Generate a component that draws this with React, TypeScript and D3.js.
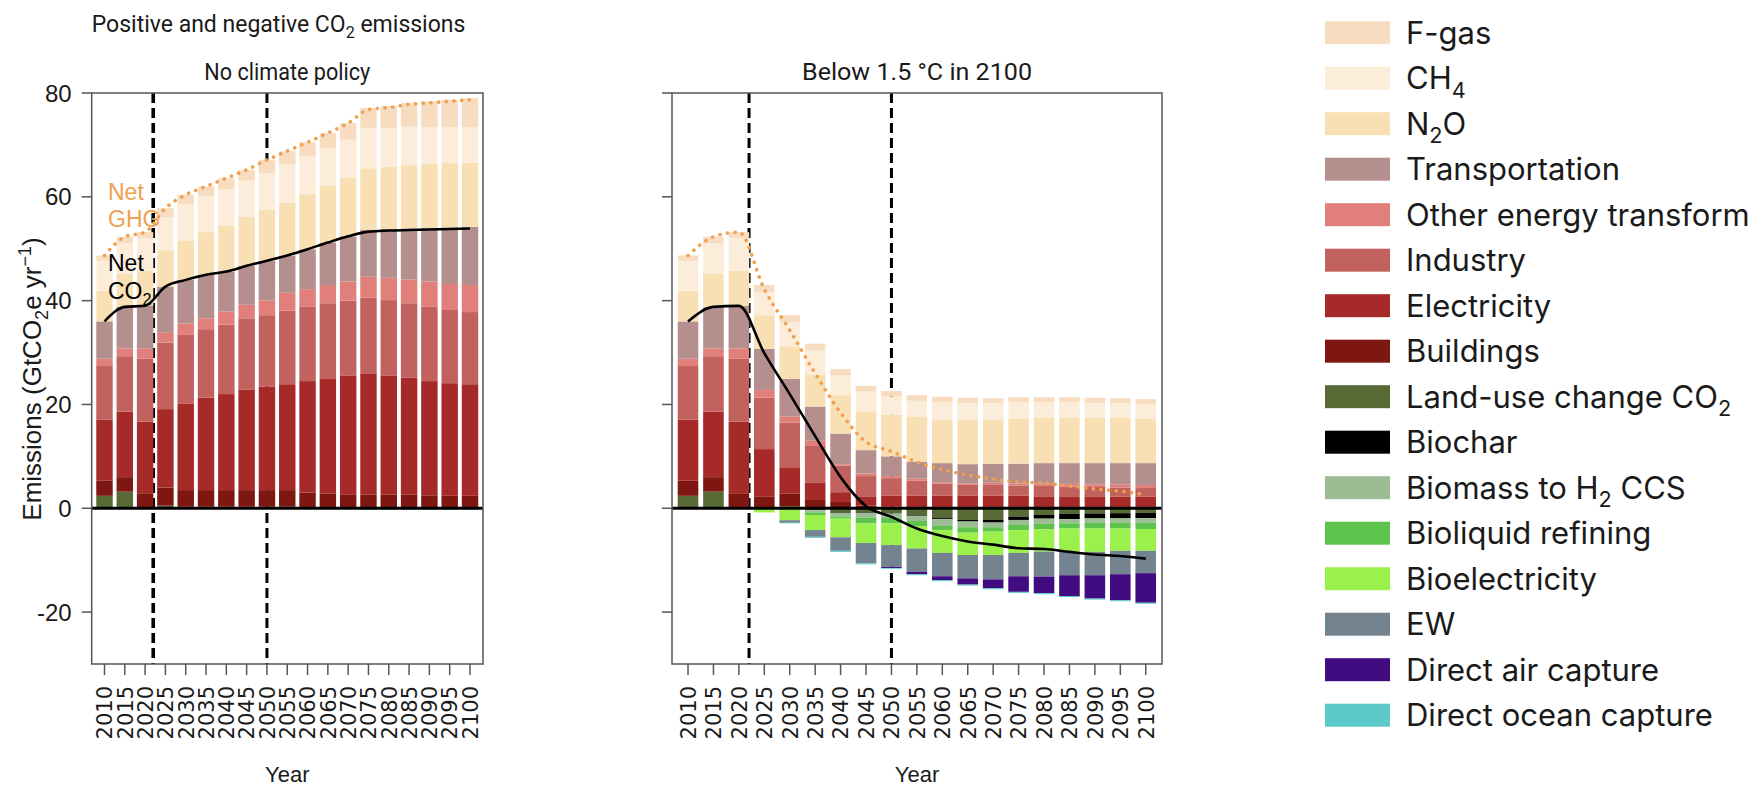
import React from "react";
import * as d3 from "d3";

// ---------------------------------------------------------------------------
// Data (GtCO2e per year), one value per year in `years`
// ---------------------------------------------------------------------------
const years = [2010, 2015, 2020, 2025, 2030, 2035, 2040, 2045, 2050, 2055, 2060, 2065, 2070, 2075, 2080, 2085, 2090, 2095, 2100];

// Scenario: no climate policy
const npLandUse = [2.4, 3.2, 0.1, 0.5, 0.3, 0.3, 0.3, 0.3, 0.3, 0.3, 0.2, 0.1, 0, 0, 0, 0, 0, 0, 0];
const npBuildings = [2.9, 2.8, 2.8, 3.5, 3.2, 3.2, 3.2, 3.2, 3.2, 3.2, 2.8, 2.7, 2.7, 2.6, 2.6, 2.6, 2.5, 2.4, 2.4];
const npElectricity = [11.8, 12.6, 13.8, 15.1, 16.7, 17.8, 18.5, 19.4, 19.9, 20.4, 21.5, 22.1, 22.9, 23.4, 23.0, 22.6, 22.0, 21.7, 21.5];
const npIndustry = [10.3, 10.7, 12.1, 12.8, 13.2, 13.2, 13.4, 13.7, 13.8, 14.2, 14.3, 14.6, 14.4, 14.6, 14.5, 14.3, 14.3, 14.1, 13.9];
const npOtherEnergy = [1.4, 1.5, 2.0, 1.9, 2.2, 2.1, 2.5, 2.6, 2.8, 3.4, 3.4, 3.5, 3.7, 4.0, 4.3, 4.6, 4.9, 5.0, 5.2];
const npTransportation = [7.2, 8.0, 8.2, 8.9, 8.4, 8.4, 7.7, 7.5, 7.7, 7.2, 7.7, 8.2, 8.7, 9.0, 9.4, 9.8, 10.3, 10.9, 11.2];
const npN2O = [5.9, 6.4, 6.8, 7.0, 7.6, 8.2, 8.9, 9.4, 9.8, 10.2, 10.6, 10.9, 11.3, 11.9, 12.0, 12.2, 12.3, 12.4, 12.4];
const npCH4 = [5.8, 5.8, 6.3, 6.4, 7.0, 7.0, 7.0, 7.0, 7.1, 7.3, 7.3, 7.3, 7.3, 7.8, 7.5, 7.4, 7.1, 6.9, 6.8];
const npFgas = [1.0, 1.3, 1.1, 1.7, 1.8, 1.8, 2.1, 2.1, 2.5, 2.6, 2.7, 2.9, 3.2, 3.8, 4.2, 4.6, 5.0, 5.3, 5.6];
const npBiochar = [0, 0, 0, 0, 0, 0, 0, 0, 0, 0, 0, 0, 0, 0, 0, 0, 0, 0, 0];
const npBiomassH2 = [0, 0, 0, 0, 0, 0, 0, 0, 0, 0, 0, 0, 0, 0, 0, 0, 0, 0, 0];
const npBioliquid = [0, 0, 0, 0, 0, 0, 0, 0, 0, 0, 0, 0, 0, 0, 0, 0, 0, 0, 0];
const npBioelectricity = [0, 0, 0, 0, 0, 0, 0, 0, 0, 0, 0, 0, 0, 0, 0, 0, 0, 0, 0];
const npEW = [0, 0, 0, 0, 0, 0, 0, 0, 0, 0, 0, 0, 0, 0, 0, 0, 0, 0, 0];
const npDAC = [0, 0, 0, 0, 0, 0, 0, 0, 0, 0, 0, 0, 0, 0, 0, 0, 0, 0, 0];
const npDOC = [0, 0, 0, 0, 0, 0, 0, 0, 0, 0, 0, 0, 0, -0.3, -0.3, -0.3, -0.3, -0.3, -0.3];

// Scenario: below 1.5 °C in 2100
const lpLandUse = [2.4, 3.2, 0.1, 0, 0.4, -0.4, -0.8, -0.8, -0.9, -1.4, -1.9, -2.25, -2.25, -1.6, -1.3, -1.1, -1.0, -0.95, -0.9];
const lpBuildings = [2.9, 2.8, 2.8, 2.2, 2.4, 1.6, 1.2, 0.5, 0.3, 0.2, 0.2, 0.2, 0.2, 0.2, 0.2, 0.2, 0.2, 0.2, 0.2];
const lpElectricity = [11.8, 12.6, 13.8, 9.2, 5.1, 3.4, 1.9, 1.8, 2.1, 2.2, 2.2, 2.2, 2.2, 2.2, 2.1, 2.1, 2.1, 2.0, 2.0];
const lpIndustry = [10.3, 10.7, 12.1, 9.9, 8.6, 7.0, 5.1, 3.9, 3.4, 2.9, 2.3, 2.1, 2.1, 2.0, 2.0, 1.9, 1.8, 1.8, 1.7];
const lpOtherEnergy = [1.4, 1.5, 2.0, 1.5, 1.2, 1.0, 0.3, 0.5, 0.4, 0.4, 0.3, 0.3, 0.4, 0.4, 0.5, 0.5, 0.5, 0.6, 0.6];
const lpTransportation = [7.2, 8.0, 8.2, 7.9, 7.2, 6.6, 5.9, 4.5, 3.8, 3.3, 3.7, 3.7, 3.7, 3.8, 3.9, 4.0, 4.1, 4.1, 4.2];
const lpN2O = [5.9, 6.4, 6.8, 6.5, 6.3, 6.2, 7.4, 7.5, 8.0, 8.7, 8.3, 8.6, 8.5, 8.7, 8.7, 8.8, 8.7, 8.7, 8.6];
const lpCH4 = [5.8, 5.8, 6.3, 4.5, 4.7, 4.7, 3.8, 3.8, 3.5, 3.0, 3.4, 3.2, 3.1, 3.1, 3.0, 2.9, 2.9, 2.8, 2.7];
const lpFgas = [1.0, 1.3, 1.1, 1.3, 1.3, 1.2, 1.2, 1.1, 1.1, 1.1, 1.1, 1.0, 1.0, 1.0, 1.0, 1.0, 1.0, 1.0, 1.0];
const lpBiochar = [0, 0, 0, 0, 0, 0, -0.1, -0.1, -0.1, -0.15, -0.2, -0.3, -0.5, -0.65, -0.7, -1.0, -0.95, -1.0, -1.0];
const lpBiomassH2 = [0, 0, 0, 0, 0, -0.4, -0.7, -0.9, -0.9, -0.9, -1.3, -1.1, -0.9, -0.85, -1.0, -0.8, -0.85, -0.85, -0.9];
const lpBioliquid = [0, 0, 0, -0.2, -0.3, -0.5, -0.4, -1.1, -1.0, -1.0, -0.8, -1.05, -0.85, -1.1, -1.05, -1.0, -1.1, -1.1, -1.2];
const lpBioelectricity = [0, 0, 0, -0.6, -2.0, -2.9, -3.6, -3.8, -4.2, -4.3, -4.4, -4.3, -4.5, -4.4, -4.3, -4.5, -4.5, -4.3, -4.2];
const lpEW = [0, 0, 0, 0, -0.5, -1.3, -2.6, -3.9, -4.2, -4.5, -4.5, -4.5, -4.7, -4.5, -4.8, -4.5, -4.5, -4.5, -4.3];
const lpDAC = [0, 0, 0, 0, 0, 0, 0, 0, -0.2, -0.45, -0.75, -1.2, -1.7, -3.0, -3.2, -4.0, -4.5, -5.0, -5.7];
const lpDOC = [0, 0, 0, 0, -0.1, -0.2, -0.2, -0.2, -0.15, -0.2, -0.2, -0.2, -0.2, -0.2, -0.2, -0.2, -0.2, -0.2, -0.2];

// Stack order (bottom-up for positives, top-down for negatives)
const seriesKeys = [
  "landUse", "buildings", "electricity", "industry", "otherEnergy", "transportation",
  "n2o", "ch4", "fgas",
  "biochar", "biomassH2", "bioliquid", "bioelectricity", "ew", "dac", "doc",
];
const nonCO2Keys = ["n2o", "ch4", "fgas"];

const npValues = [npLandUse, npBuildings, npElectricity, npIndustry, npOtherEnergy, npTransportation, npN2O, npCH4, npFgas, npBiochar, npBiomassH2, npBioliquid, npBioelectricity, npEW, npDAC, npDOC];
const lpValues = [lpLandUse, lpBuildings, lpElectricity, lpIndustry, lpOtherEnergy, lpTransportation, lpN2O, lpCH4, lpFgas, lpBiochar, lpBiomassH2, lpBioliquid, lpBioelectricity, lpEW, lpDAC, lpDOC];

const seriesColors: Record<string, string> = {
  fgas: "#f7dcc0",
  ch4: "#fcedda",
  n2o: "#f8e0b4",
  transportation: "#b48f8d",
  otherEnergy: "#e17f7b",
  industry: "#c1625e",
  electricity: "#a62b28",
  buildings: "#7e1711",
  landUse: "#576a36",
  biochar: "#000000",
  biomassH2: "#9cbd93",
  bioliquid: "#5ec34c",
  bioelectricity: "#9cf04c",
  ew: "#748390",
  dac: "#400c80",
  doc: "#5ccacb",
};

// Legend, top to bottom; "_x" marks a subscript character
const legendKeys = ["fgas", "ch4", "n2o", "transportation", "otherEnergy", "industry", "electricity", "buildings", "landUse", "biochar", "biomassH2", "bioliquid", "bioelectricity", "ew", "dac", "doc"];
const legendLabels = ["F-gas", "CH_4", "N_2O", "Transportation", "Other energy transform", "Industry", "Electricity", "Buildings", "Land-use change CO_2", "Biochar", "Biomass to H_2 CCS", "Bioliquid refining", "Bioelectricity", "EW", "Direct air capture", "Direct ocean capture"];

const yTicks = [-20, 0, 20, 40, 60, 80];
const markerYears = [2022, 2050];
const panelTitles = ["No climate policy", "Below 1.5 °C in 2100"];
const panelTitleLengths = [166, 230];

// ---------------------------------------------------------------------------
const W = 1754;
const H = 789;
const plotTop = 93;
const plotBottom = 664;
const panelsX = [
  [91.7, 483],
  [672, 1162],
];
const xDomain = [2006.85, 2103.2];

const titleFont = "Roboto, 'Noto Sans', sans-serif";
const legendFont = "Inter, 'Noto Sans', sans-serif";
const axisFont = "'Liberation Sans', Arial, sans-serif";
const tickFont = "'DejaVu Sans', sans-serif";
const ghgOrange = "#f0a04e";

type Row = { year: number; [k: string]: number };

function buildTable(values: number[][]): Row[] {
  return years.map((year, i) => {
    const row: Row = { year };
    seriesKeys.forEach((k, j) => {
      row[k] = values[j][i];
    });
    return row;
  });
}

function Rich({ label, size }: { label: string; size: number }) {
  const parts: { t: string; sub: boolean }[] = [];
  let buf = "";
  for (let i = 0; i < label.length; i++) {
    if (label[i] === "_" && i + 1 < label.length) {
      if (buf) parts.push({ t: buf, sub: false });
      buf = "";
      parts.push({ t: label[i + 1], sub: true });
      i++;
    } else buf += label[i];
  }
  if (buf) parts.push({ t: buf, sub: false });
  const shift = size * 0.28;
  let prevSub = false;
  return (
    <>
      {parts.map((p, i) => {
        let dy = 0;
        if (p.sub && !prevSub) dy = shift;
        if (!p.sub && prevSub) dy = -shift;
        prevSub = p.sub;
        return (
          <tspan key={i} dy={dy || undefined} fontSize={p.sub ? size * 0.7 : undefined}>
            {p.t}
          </tspan>
        );
      })}
    </>
  );
}

function Panel({ index, values }: { index: number; values: number[][] }) {
  const [x0, x1] = panelsX[index];
  const x = d3.scaleLinear().domain(xDomain).range([x0, x1]);
  const y = d3.scaleLinear().domain([-30, 80]).range([plotBottom, plotTop]);
  const table = buildTable(values);
  const layers = d3.stack<Row>().keys(seriesKeys).offset(d3.stackOffsetDiverging)(table);
  const bw = (x(2015) - x(2010)) * 0.81;

  const netCO2 = table.map((r) => ({
    year: r.year,
    v: d3.sum(seriesKeys.filter((k) => !nonCO2Keys.includes(k)), (k) => r[k]),
  }));
  const netGHG = table.map((r) => ({ year: r.year, v: d3.sum(seriesKeys, (k) => r[k]) }));
  const line = d3
    .line<{ year: number; v: number }>()
    .x((d) => x(d.year))
    .y((d) => y(d.v))
    .curve(d3.curveMonotoneX);

  const cx = (x0 + x1) / 2;
  const tl = panelTitleLengths[index];

  return (
    <g>
      <text
        x={cx - tl / 2}
        y={80}
        textLength={tl}
        lengthAdjust="spacingAndGlyphs"
        fontFamily={titleFont}
        fontSize={24}
        fill="#1a1a1a"
      >
        {panelTitles[index]}
      </text>

      {markerYears.map((yr, i) => (
        <line
          key={yr}
          x1={x(yr)}
          x2={x(yr)}
          y1={plotTop}
          y2={plotBottom}
          stroke="#000"
          strokeWidth={index === 0 && i === 0 ? 3.6 : 3}
          strokeDasharray="10 5"
        />
      ))}

      {layers.map((layer) => (
        <g key={layer.key} fill={seriesColors[layer.key]}>
          {layer.map((d, i) => {
            const h = Math.abs(y(d[0]) - y(d[1]));
            if (h < 0.01) return null;
            return <rect key={i} x={x(table[i].year) - bw / 2} y={Math.min(y(d[0]), y(d[1]))} width={bw} height={h} />;
          })}
        </g>
      ))}

      <line x1={x0} x2={x1} y1={y(0)} y2={y(0)} stroke="#000" strokeWidth={3.2} />
      <rect x={x0} y={plotTop} width={x1 - x0} height={plotBottom - plotTop} fill="none" stroke="#555" strokeWidth={1.5} />

      <path d={line(netGHG) || ""} fill="none" stroke={ghgOrange} strokeWidth={3.6} strokeLinecap="round" strokeDasharray="0.1 7.6" />
      <path d={line(netCO2) || ""} fill="none" stroke="#000" strokeWidth={2.6} strokeLinejoin="round" />

      {yTicks.map((t) => (
        <g key={t}>
          <line x1={x0 - 10} x2={x0} y1={y(t)} y2={y(t)} stroke="#555" strokeWidth={1.5} />
          {index === 0 && (
            <text x={x0 - 20} y={y(t)} dy="0.36em" textAnchor="end" fontFamily={axisFont} fontSize={24} fill="#1a1a1a">
              {t}
            </text>
          )}
        </g>
      ))}

      {years.map((yr) => (
        <g key={yr}>
          <line x1={x(yr)} x2={x(yr)} y1={plotBottom} y2={plotBottom + 11} stroke="#555" strokeWidth={1.5} />
          <text transform={`translate(${x(yr) + 7.8},${686}) rotate(-90)`} textAnchor="end" fontFamily={tickFont} fontSize={21} fill="#1a1a1a">
            {yr}
          </text>
        </g>
      ))}

      <text x={cx} y={782} textAnchor="middle" fontFamily={axisFont} fontSize={22} fill="#1a1a1a">
        Year
      </text>
    </g>
  );
}

export default function App() {
  const legendTop = 32.7;
  const legendStep = 45.5;
  return (
    <svg width={W} height={H} style={{ position: "absolute", left: 0, top: 0, background: "#fff" }}>
      <text x={91.7} y={32} fontFamily={titleFont} fontSize={23} fill="#1a1a1a">
        <Rich label="Positive and negative CO_2 emissions" size={23} />
      </text>

      <text transform="translate(41,379) rotate(-90)" textAnchor="middle" fontFamily={axisFont} fontSize={26} fill="#1a1a1a">
        <tspan>Emissions (GtCO</tspan>
        <tspan dy={7} fontSize={18}>2</tspan>
        <tspan dy={-7}>e yr</tspan>
        <tspan dy={-10} fontSize={18}>−1</tspan>
        <tspan dy={10}>)</tspan>
      </text>

      <Panel index={0} values={npValues} />
      <Panel index={1} values={lpValues} />

      <g fontFamily={axisFont} fontSize={23}>
        <text x={108} y={200} fill={ghgOrange}>Net</text>
        <text x={108} y={227} fill={ghgOrange}>GHG</text>
        <text x={108} y={271} fill="#000">Net</text>
        <text x={108} y={299} fill="#000">
          <Rich label="CO_2" size={23} />
        </text>
      </g>

      <g>
        {legendKeys.map((k, i) => {
          const cy = legendTop + i * legendStep;
          return (
            <g key={k}>
              <rect x={1325} y={cy - 11.5} width={65} height={23} fill={seriesColors[k]} />
              <text x={1406} y={cy + 11} fontFamily={legendFont} fontSize={31} fill="#1a1a1a">
                <Rich label={legendLabels[i]} size={31} />
              </text>
            </g>
          );
        })}
      </g>
    </svg>
  );
}
